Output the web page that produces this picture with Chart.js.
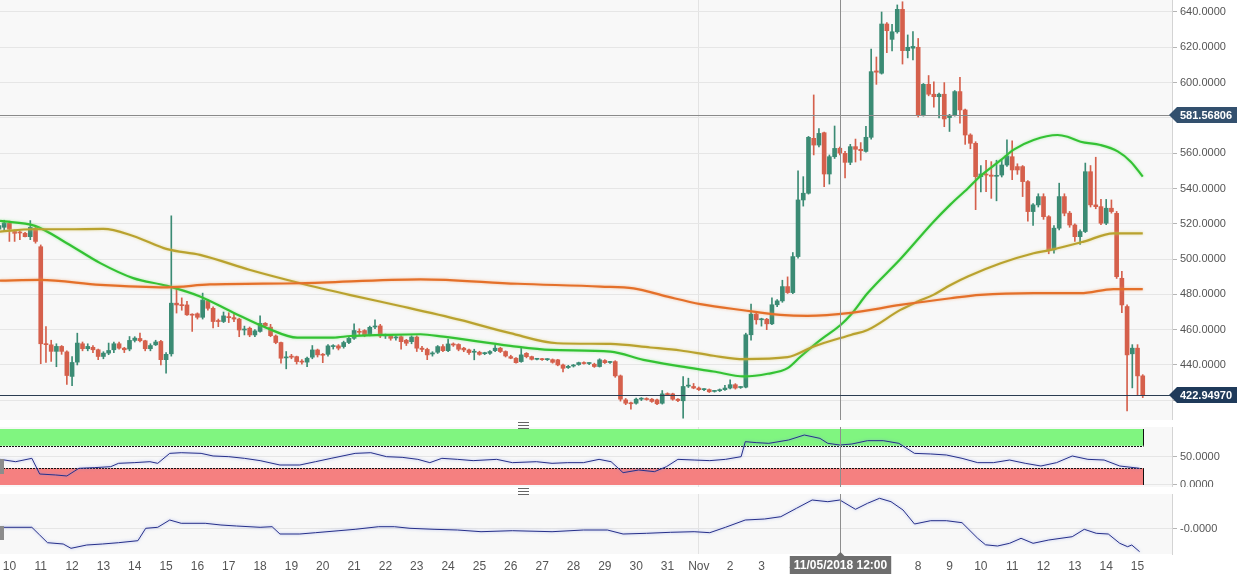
<!DOCTYPE html>
<html>
<head>
<meta charset="utf-8">
<title>Candles</title>
<script src="https://cdn.jsdelivr.net/npm/chart.js@4.4.1/dist/chart.umd.min.js"></script>
<style>
  html, body { margin: 0; padding: 0; background: #fff; }
  #wrap { position: relative; width: 1237px; height: 582px; overflow: hidden; background: #fff; }
  canvas { position: absolute; left: 0; }
  #c-main { top: 0; }
  #c-rsi { top: 427px; }
  #c-mom { top: 493px; }
  .grip { position: absolute; left: 518px; width: 11px; height: 5px; border-top: 1px solid #666; border-bottom: 1px solid #666; }
  .grip::after { content: ''; position: absolute; left: 0; right: 0; top: 2px; border-top: 1px solid #666; }
  .tab { position: absolute; left: 0; width: 4px; background: #8c8c8c; }
</style>
</head>
<body>
<div id="wrap">
  <canvas id="c-main" width="1237" height="420"></canvas>
  <canvas id="c-rsi" width="1237" height="60"></canvas>
  <canvas id="c-mom" width="1237" height="89"></canvas>
  <div class="grip" style="top:422px"></div>
  <div class="grip" style="top:488px"></div>
  <div class="tab" style="top:459px;height:15px"></div>
  <div class="tab" style="top:526px;height:14px"></div>
</div>
<script>
// ── Data: 4h candles, index 0 = Oct 10 00:00 ──────────
const FIRST_INDEX = -2;

const opens = [
  517, 518, 520.3, 515.6, 515.2, 514.6, 512.7, 517.5, 507, 452,
  451.4, 447.7, 450.5, 447.4, 433.5, 441.6, 452, 449.2, 450, 448.6,
  444.8, 446.7, 448.6, 452, 449.5, 449, 453.9, 455, 453.7, 449.2,
  451.4, 453.3, 443, 446.3, 475, 474, 474, 468.4, 469, 467,
  476.4, 472.1, 465, 464.6, 467.4, 466.8, 466, 459.8, 460.8, 457,
  459, 463.6, 461.4, 456.4, 452.7, 444, 445, 444.7, 441.9, 441.6,
  444.4, 448.5, 446, 446, 450.4, 450.8, 450.4, 452.7, 455.1, 459,
  459.5, 457, 461.5, 462.1, 456.4, 456.6, 455.3, 456, 454, 453.2,
  455.8, 449.5, 448.8, 446.2, 447.2, 450.4, 448.1, 451.9, 451.6, 449.5,
  448.5, 447.2, 447.2, 446.4, 446.6, 448.1, 449.5, 447.6, 444.7, 443.8,
  441.9, 446.6, 444.7, 443.2, 443.3, 443, 443, 442.9, 440, 438.5,
  439.4, 440.2, 441.1, 440.8, 440.4, 439.1, 442.5, 441.4, 441.9, 433.8,
  420.2, 418.3, 418.3, 420.6, 420.6, 420.6, 420.2, 418.3, 423.4, 423.6,
  420.6, 419.7, 428, 427.8, 426.9, 426, 426, 425, 425.4, 426,
  426.9, 428.8, 427.2, 427.4, 457.1, 468.8, 465.6, 465.9, 463.3, 474.1,
  476.3, 484.4, 481, 501.4, 533.5, 537.3, 568.4, 564.6, 571.6, 548.2,
  558, 562.8, 559.9, 554.8, 563.7, 562.2, 561, 569, 606.6, 605.3,
  633.2, 624.5, 628.8, 641.5, 618.1, 619.5, 620, 581.7, 599, 593.4,
  592, 593.4, 580.2, 581.7, 594.9, 584.5, 570.3, 565.6, 546.7, 547.8,
  547.6, 546.9, 547.6, 553.3, 558, 552.4, 552.4, 543.9, 526.9, 530.7,
  535.4, 524, 505.2, 517.5, 535.4, 526, 519.3, 512.7, 515.6, 549.5,
  530.7, 529.7, 520.3, 528.8, 525.9, 489.1, 473.1, 446.3, 449.5, 433.8
];
const highs = [
  520, 522, 521.5, 516.5, 516, 515.2, 521.8, 518.5, 508, 461.8,
  454, 452, 451, 448, 444.8, 458, 453, 452, 451, 449,
  447.5, 452.4, 453, 453, 450, 456.1, 456, 458, 454, 452,
  454, 454, 447, 524.5, 484.4, 478, 476, 469, 469.5, 480.7,
  477, 473, 466, 470, 469.6, 469, 466.5, 462, 461.5, 460,
  467.8, 464, 463, 457, 453, 447.6, 446, 445, 443, 444.5,
  451, 449, 446.5, 451.5, 451.5, 451.5, 453.5, 456, 463.3, 460.5,
  460, 462, 465.5, 463, 457.5, 457, 456.5, 456.5, 454.5, 456.5,
  456.5, 450.5, 449.5, 447.5, 451, 451.5, 454.6, 452.5, 452, 450,
  449, 448.9, 447.8, 447.2, 448.2, 451.3, 450, 448, 445.5, 444.2,
  449.5, 447, 445, 443.8, 443.8, 443.6, 443.4, 443.2, 440.5, 439.8,
  440.3, 441.6, 441.8, 441.4, 441, 443.5, 443, 442, 442.4, 434.3,
  421, 419, 421.2, 421.5, 421.4, 421, 420.6, 425.5, 424.2, 424,
  421, 433.4, 432.5, 429.5, 427.5, 426.6, 426.4, 425.6, 426.4, 428.5,
  431.6, 429.4, 427.8, 458, 474.5, 469.5, 466.5, 466.4, 478, 477,
  488, 489.9, 503.7, 550, 546.7, 569.5, 593, 574, 572, 559,
  575.4, 563.5, 561, 565, 568, 566, 575.2, 619, 614.5, 640,
  634, 633, 644, 645.8, 627, 628.9, 625, 599.5, 604, 600.5,
  594, 600, 582, 595.5, 603, 585, 571, 566.5, 553, 556,
  555.2, 556, 556, 567.5, 567, 554, 553, 544.5, 531.5, 537,
  537, 524.6, 519, 543, 537, 527, 520, 516.5, 554.4, 553,
  557.7, 533.8, 533.8, 533.5, 527, 493, 474, 451.5, 451.5, 434.5
];
const lows = [
  515, 516, 510, 510, 511, 512.5, 511, 509, 440.7, 441.4,
  442, 439, 446, 429, 428.2, 440, 448, 448, 447, 443,
  443.5, 445.8, 447, 449, 447, 448, 453, 453, 448, 448,
  451, 440, 435.4, 445, 469.4, 471, 468, 459, 466, 466,
  471, 461, 461.7, 464, 464, 464.5, 456, 457, 456, 456,
  458.5, 461, 456, 452, 441, 437.8, 443.5, 440.5, 440.5, 439,
  443.5, 444.5, 441.3, 445, 449, 448.5, 449.5, 452, 454.5, 457,
  456, 456.5, 460.5, 455.5, 455, 454, 454, 449, 451, 452,
  447.6, 447.5, 443, 445, 446.5, 447.5, 447.5, 450.5, 448, 447.5,
  446, 442.9, 445.5, 445.8, 446, 447.5, 447, 444.5, 443.5, 441,
  441.5, 444, 442.8, 442.8, 442.6, 442.5, 441, 439.5, 436, 438,
  438.8, 439.8, 440.4, 440.2, 438.6, 438.8, 440.8, 440.9, 433, 419.5,
  417.5, 415, 417.8, 419.8, 420, 418.8, 417.5, 417.8, 422.6, 420,
  419.2, 409.8, 427.2, 426.5, 425.5, 425.4, 424.4, 424.6, 424.9, 425.6,
  426.4, 426.3, 426.7, 427, 454, 463.1, 462, 460, 462.8, 473,
  475.5, 480.5, 480.4, 500.5, 530, 536.8, 559, 563.5, 541, 542.5,
  557, 559, 546, 553.5, 555, 556, 560.5, 568, 599, 604.8,
  617, 618, 628, 610.5, 614, 612.8, 580.5, 581, 592.5, 586,
  580, 575, 572.3, 581, 577, 565, 562.5, 528, 538, 538.2,
  534.4, 533, 546.5, 552.5, 545, 548, 535.4, 521.5, 519, 529.5,
  522.5, 503, 503.3, 516.5, 524.5, 518, 510, 508.3, 515, 529.5,
  528.5, 519.5, 519.5, 526, 489, 469.6, 414, 427, 423, 421.5
];
const closes = [
  519, 520.5, 516.9, 514.6, 514.8, 512.7, 518, 510, 452, 451.5,
  447.7, 450.5, 447.7, 434, 441.4, 452.4, 449.2, 450.5, 448.6, 444.8,
  446.7, 448.2, 452, 449.5, 448.6, 453.9, 455.2, 453.7, 449.2, 451,
  453, 443, 446, 475, 474, 473.6, 468.4, 468.2, 467, 476.8,
  472.1, 464.6, 464.6, 467.8, 466.8, 466, 459.8, 460.2, 457, 459.3,
  463.6, 462.1, 456.6, 452.7, 443.8, 444.4, 444.4, 441.9, 441.6, 443.8,
  448.5, 445.7, 445.5, 450.8, 450.6, 449.5, 452.7, 455.1, 459.5, 458.5,
  457, 461.3, 462, 456.4, 456.7, 455.1, 455.5, 453.2, 452.3, 455.8,
  449.5, 448.8, 445.7, 446.8, 450.4, 448.1, 451.9, 451.3, 448.9, 448.5,
  447, 447.6, 446, 446.8, 447.6, 449.5, 447.6, 445.1, 443.8, 441.3,
  445.7, 444.7, 443.2, 443.5, 443, 443.1, 441.5, 440, 438.1, 439.2,
  439.9, 441.3, 440.8, 441, 439.1, 442.9, 441.3, 441.7, 433.8, 420.6,
  418.3, 418, 420.6, 420.8, 420.4, 419.3, 418, 423.6, 423.2, 420.6,
  419.8, 427.8, 428.4, 426.9, 426, 426.2, 424.8, 425.2, 426, 426.9,
  428.8, 426.9, 427.4, 457.1, 468.8, 465.6, 465.9, 463.3, 474.1, 476.3,
  484.4, 481, 501.4, 533.5, 537.3, 569, 564.6, 571.2, 548.2, 558,
  562.7, 560, 554.8, 563.7, 562.2, 561.4, 569, 606.2, 605.9, 633.2,
  629.4, 628.8, 641.5, 618.1, 620, 620.5, 581.7, 599, 593.4, 592,
  593.4, 579.4, 581.5, 594.9, 584.5, 570.3, 565.6, 546.7, 548.2, 547.6,
  546.9, 547.4, 553.3, 558.5, 550.5, 550.5, 543.9, 526.9, 530.7, 535.4,
  524, 505.2, 517.5, 535.4, 526, 519.3, 512.7, 515.6, 549.5, 530.7,
  529.7, 520.3, 528.8, 526.9, 490, 474, 445.7, 449.5, 433.8, 422.95
];

// moving averages, read at sample points (x = candle index)
const fastMaIdx = [-1.8, 4.9, 11, 17.4, 23.7, 30.2, 36.5, 42.9, 49.4, 55.1, 62, 65.3, 71.6, 78.7, 83.1, 95.9, 103.6, 115.1, 121.4, 128.5, 134.8, 140.6, 145.2, 149, 151.5, 155.3, 159.2, 161.1, 164.3, 170.6, 176.9, 180.2, 183.5, 185.9, 189.8, 192.3, 196.1, 200.7, 202.6, 205.1, 208.9, 212.2, 214.7, 217];
const fastMaVal = [521.6, 518.8, 509, 497.7, 489.2, 484.8, 478.8, 469.6, 460.8, 455.5, 455.5, 456.4, 457, 457.4, 456, 450.8, 448.5, 447.6, 442.9, 439.2, 436.3, 433.5, 435, 438.2, 444.8, 454.2, 462.8, 468.4, 480.6, 500, 521, 531, 540, 547, 556, 562, 567.5, 570.3, 569.3, 566.5, 564.6, 561, 555.2, 546.7];
const midMaIdx = [-1.8, 4.5, 11.1, 18, 23.7, 30.2, 36.5, 46.1, 55.7, 65.3, 74.8, 86.3, 95.9, 104.9, 115.1, 122.7, 128.5, 134.8, 140.6, 149, 154, 161.1, 164.3, 170.6, 173.9, 176.9, 180.2, 183.5, 189.8, 196.1, 199.4, 205.7, 211.4, 217];
const midMaVal = [515.6, 516.9, 516.9, 517.1, 513.1, 505.6, 502.4, 493.8, 486.3, 479.6, 473.4, 465.5, 458, 452.3, 451.9, 449.9, 448.2, 445.2, 443.3, 444.4, 450.5, 457, 459.8, 471.2, 475.9, 479.7, 485.3, 490.1, 497.6, 503.3, 505.2, 509.9, 514.6, 514.6];
const slowMaIdx = [-1.8, 5.9, 17.4, 30.2, 38.4, 55.7, 78.7, 97.3, 113.2, 119.5, 126, 132.3, 140.5, 147.6, 152.8, 161.1, 170.6, 180.2, 185.9, 196.1, 205.1, 211.4, 217];
const slowMaVal = [487.8, 488.2, 485.4, 484, 485.6, 486.3, 488.5, 486, 484.4, 483.4, 478.7, 474.5, 471, 468.4, 467.8, 469.5, 474, 477.8, 479.7, 480.7, 480.7, 483, 483];

// RSI pane
const rsiIdx = [-1.8, 1.2, 4.3, 5.8, 8.8, 11, 13.3, 16.3, 19.4, 20.9, 23.9, 26.9, 28.4, 30.7, 32.9, 36.7, 39, 42, 45, 48, 51.8, 55.6, 58.6, 61.6, 66.2, 69.2, 72.2, 75.2, 78.2, 80.5, 82.8, 85.8, 88.8, 93.3, 96.3, 100.9, 103.9, 106.9, 109.9, 112.9, 115.2, 117.5, 120.5, 123.5, 125.8, 128, 131.1, 134.1, 137.1, 140.1, 140.9, 143.1, 145.4, 149.2, 152.2, 155.2, 156.7, 159, 161.3, 164.3, 167.3, 170.3, 173.3, 176.4, 179.4, 182.4, 185.4, 188.4, 191.5, 194.5, 197.5, 200.5, 203.5, 206.5, 209.6, 212.6, 216.4];
const rsiVals = [45.8, 41.6, 47.6, 19.6, 17.9, 16.1, 29.8, 31, 32.7, 38.7, 39.9, 41.6, 38.7, 56.5, 57.7, 56.5, 51.8, 50.6, 47.6, 43.5, 35.7, 35.7, 41.6, 47.6, 56.5, 57.7, 50.6, 49.4, 45.8, 39.9, 47.6, 45.8, 43.5, 45.8, 39.9, 41.6, 38.7, 39.9, 39.9, 45.8, 41.6, 22, 26.8, 23.8, 32.7, 45.8, 44.6, 43.5, 45.8, 50.6, 77.4, 75.6, 74.4, 80.4, 89.3, 83.3, 74.4, 71.4, 73.2, 79.2, 79.2, 74.4, 56.5, 55.4, 53.6, 47.6, 39.9, 39.9, 44.6, 38.7, 33.9, 39.9, 51.8, 45.8, 44.6, 33.9, 29.8];
const rsiOverbought = [70, 100];
const rsiOversold = [0, 30];
const rsiTicks = [0, 50];

// lower oscillator pane
const momIdx = [-1.8, 4.3, 5.8, 7.3, 10.3, 11.8, 14.8, 17.8, 20.9, 24.6, 26.1, 28.4, 30.7, 32.9, 37.5, 40.5, 43.5, 48, 50.3, 51.8, 55.6, 58.6, 63.1, 66.2, 70.7, 73.7, 76.7, 81.3, 85.8, 90.3, 96.3, 103.9, 109.9, 114.5, 117.5, 122, 126.6, 131.1, 134.1, 137.1, 140.9, 144.6, 147.7, 150.7, 153.7, 156.7, 159, 162, 164.3, 166.6, 168.8, 171.1, 173.3, 176.4, 179.4, 182.4, 185.4, 186.9, 189.2, 191.5, 193.7, 196, 199, 203.5, 205.8, 208.1, 210.4, 212.6, 214.1, 214.9, 216.4];
const momVals = [1.7, 1.7, -6, -13.7, -15, -19.3, -16, -15, -13.7, -11.7, 0.7, 1.7, 9, 5.7, 5.7, 4, 3, 1.7, 2.3, -5, -5, -3.7, -1.7, -0.3, 2.3, 2.3, 0.7, -0.3, -1, -2.7, -1.7, -2.7, -1, -1, -5, -4.3, -3.3, -2.7, -3.7, 1.7, 9, 10, 12.3, 20.7, 29, 27.3, 29, 19.7, 25.7, 30.7, 27.3, 19, 5, 8.3, 8.3, 6.3, -9.3, -15.8, -17, -14.3, -9.3, -14.3, -11, -7.7, -0.3, -4.3, -5, -14.3, -17.7, -16, -22.7];
const momTicks = [0];
const momTickLabels = ['-0.0000'];

// axes / markers
const dayLabels = ['10','11','12','13','14','15','16','17','18','19','20','21','22','23','24','25','26','27','28','29','30','31','Nov','2','3','4','5','6','7','8','9','10','11','12','13','14','15'];
const priceTicks = [420, 440, 460, 480, 500, 520, 540, 560, 580, 600, 620, 640];
const crossIndex = 159;
const crossPrice = 581.56806;
const crossDate = '11/05/2018 12:00';
const lastPrice = 422.9497;

// ── Look ──────────────────────────────────────────────
const X_MIN = -1.8, X_MAX = 222.6, NOV_INDEX = 132;
const AXIS_W = 65;
const UP = '#3b8b74', DOWN = '#d5604c';
const FONT = '"Liberation Sans", Arial, sans-serif';
const NARROW = '"Liberation Sans Narrow", "Liberation Sans", Arial, sans-serif';

Chart.defaults.font.family = FONT;
Chart.defaults.font.size = 11;
Chart.defaults.color = '#555';

// ── Plugins ───────────────────────────────────────────
const plotBg = {
  id: 'plotBg',
  beforeDraw(chart) {
    const { ctx, chartArea: a } = chart;
    ctx.save();
    ctx.fillStyle = '#f8f8f8';
    ctx.fillRect(a.left, a.top, a.width, a.height);
    ctx.restore();
  }
};

const glow = {
  id: 'glow',
  beforeDatasetDraw(chart, args) {
    const ds = chart.data.datasets[args.index];
    if (!ds.glow) return;
    chart.ctx.save();
    chart.ctx.shadowColor = ds.glow;
    chart.ctx.shadowBlur = 3;
  },
  afterDatasetDraw(chart, args) {
    if (chart.data.datasets[args.index].glow) chart.ctx.restore();
  }
};

const crosshair = {
  id: 'crosshair',
  afterDatasetsDraw(chart) {
    const { ctx, chartArea: a, scales: { x } } = chart;
    const px = Math.round(x.getPixelForValue(crossIndex)) + 0.5;
    ctx.save();
    ctx.strokeStyle = '#8e8e8e';
    ctx.lineWidth = 1;
    ctx.beginPath();
    ctx.moveTo(px, a.top);
    ctx.lineTo(px, a.bottom);
    ctx.stroke();
    ctx.restore();
  }
};

function tag(ctx, left, right, y, text, fill) {
  const h = 16;
  ctx.fillStyle = fill;
  ctx.beginPath();
  ctx.moveTo(left - 3, y);
  ctx.lineTo(left + 5, y - h / 2);
  ctx.lineTo(right, y - h / 2);
  ctx.lineTo(right, y + h / 2);
  ctx.lineTo(left + 5, y + h / 2);
  ctx.closePath();
  ctx.fill();
  ctx.fillStyle = '#fff';
  ctx.font = 'bold 11px ' + FONT;
  ctx.textBaseline = 'middle';
  ctx.textAlign = 'left';
  ctx.fillText(text, left + 8, y + 0.5);
}

const priceMarks = {
  id: 'priceMarks',
  afterDatasetsDraw(chart) {
    const { ctx, chartArea: a, scales: { y } } = chart;
    ctx.save();
    ctx.lineWidth = 1;
    [[crossPrice, '#8a8a8a'], [lastPrice, '#2b3d52']].forEach(([v, c]) => {
      const py = Math.round(y.getPixelForValue(v)) + 0.5;
      ctx.strokeStyle = c;
      ctx.beginPath();
      ctx.moveTo(a.left, py);
      ctx.lineTo(a.right, py);
      ctx.stroke();
    });
    ctx.restore();
  },
  afterDraw(chart) {
    const { ctx, chartArea: a, scales: { y } } = chart;
    ctx.save();
    tag(ctx, a.right, chart.width, y.getPixelForValue(crossPrice), crossPrice.toFixed(5), '#33506e');
    tag(ctx, a.right, chart.width, y.getPixelForValue(lastPrice), lastPrice.toFixed(5), '#1f3a5a');
    ctx.restore();
  }
};

const rsiZones = {
  id: 'rsiZones',
  beforeDatasetsDraw(chart) {
    const { ctx, chartArea: a, scales: { x, y } } = chart;
    const x0 = a.left;
    const x1 = Math.round(x.getPixelForValue(FIRST_INDEX + closes.length - 1)) + 0.5;
    ctx.save();
    [[rsiOverbought, '#80f580'], [rsiOversold, '#f58080']].forEach(([band, fill]) => {
      const yTop = y.getPixelForValue(band[1]);
      const yBot = y.getPixelForValue(band[0]);
      ctx.fillStyle = fill;
      ctx.fillRect(x0, yTop, x1 - x0, yBot - yTop);
    });
    ctx.strokeStyle = '#111';
    ctx.lineWidth = 1;
    ctx.setLineDash([2, 1]);
    [rsiOverbought[0], rsiOversold[1]].forEach(v => {
      const py = Math.round(y.getPixelForValue(v)) + 0.5;
      ctx.beginPath(); ctx.moveTo(x0, py); ctx.lineTo(x1, py); ctx.stroke();
    });
    ctx.setLineDash([]);
    [rsiOverbought, rsiOversold].forEach(band => {
      ctx.beginPath();
      ctx.moveTo(x1, y.getPixelForValue(band[1]));
      ctx.lineTo(x1, y.getPixelForValue(band[0]));
      ctx.stroke();
    });
    ctx.restore();
  }
};

const dateTag = {
  id: 'dateTag',
  afterDraw(chart) {
    const { ctx, chartArea: a, scales: { x } } = chart;
    const cx = Math.round(x.getPixelForValue(crossIndex)) + 0.5;
    ctx.save();
    ctx.font = 'bold 12px ' + NARROW;
    const w = ctx.measureText(crossDate).width + 8;
    const top = a.bottom + 2, h = 18;
    ctx.fillStyle = '#6e6e6e';
    ctx.fillRect(cx - w / 2, top, w, h);
    ctx.beginPath();
    ctx.moveTo(cx - 4, top); ctx.lineTo(cx, top - 4); ctx.lineTo(cx + 4, top);
    ctx.fill();
    ctx.fillStyle = '#fff';
    ctx.textAlign = 'center';
    ctx.textBaseline = 'middle';
    ctx.fillText(crossDate, cx, top + h / 2 + 0.5);
    ctx.restore();
  }
};

// ── Scales ────────────────────────────────────────────
function xScale(showLabels) {
  return {
    type: 'linear',
    offset: false,
    min: X_MIN,
    max: X_MAX,
    afterBuildTicks: s => { s.ticks = dayLabels.map((_, k) => ({ value: k * 6 })); },
    grid: {
      offset: false,
      drawTicks: false,
      color: c => (c.tick && c.tick.value === NOV_INDEX ? '#e3e3e3' : 'rgba(0,0,0,0)'),
    },
    border: { display: false },
    ticks: {
      display: showLabels,
      autoSkip: false,
      maxRotation: 0,
      padding: 5,
      color: '#555',
      font: { family: NARROW, size: 12 },
      callback: (v, i) => dayLabels[i],
    },
    afterFit: s => {
      s.height = showLabels ? 28 : 0;
      s.paddingLeft = 0;
      s.paddingRight = 0;
    },
  };
}

function yScale(min, max, tickValues, label) {
  return {
    position: 'right',
    min,
    max,
    afterBuildTicks: s => { s.ticks = tickValues.map(v => ({ value: v })); },
    grid: { color: '#e6e6e6', tickLength: 5, tickColor: '#b5b5b5' },
    border: { color: '#d4d4d4' },
    ticks: { padding: 3, color: '#555', font: { size: 11 }, callback: label },
    afterFit: s => {
      s.width = AXIS_W;
      s.paddingTop = 0;
      s.paddingBottom = 0;
    },
  };
}

const baseOptions = {
  responsive: false,
  animation: false,
  events: [],
  layout: { padding: 0 },
  plugins: { legend: { display: false }, tooltip: { enabled: false } },
};

function pts(xs, ys) {
  return xs.map((x, k) => ({ x, y: ys[k] }));
}

function maLine(xs, ys, color, halo) {
  return {
    type: 'line',
    data: pts(xs, ys),
    borderColor: color,
    borderWidth: 2.2,
    pointRadius: 0,
    cubicInterpolationMode: 'monotone',
    glow: halo,
    order: 1,
  };
}

// ── Main pane: candles + moving averages ──────────────
const candleX = closes.map((_, k) => FIRST_INDEX + k);
const candleColor = closes.map((c, k) => (c >= opens[k] ? UP : DOWN));

new Chart(document.getElementById('c-main'), {
  type: 'bar',
  data: {
    datasets: [
      {
        data: candleX.map((x, k) => ({ x, y: [lows[k], highs[k]] })),
        backgroundColor: candleColor,
        barThickness: 1,
        grouped: false,
        order: 3,
      },
      {
        data: candleX.map((x, k) => ({ x, y: [opens[k], closes[k]] })),
        backgroundColor: candleColor,
        barThickness: 4,
        minBarLength: 1,
        grouped: false,
        order: 2,
      },
      maLine(slowMaIdx, slowMaVal, '#e4702a', 'rgba(240,150,90,0.6)'),
      maLine(midMaIdx, midMaVal, '#b9a22f', 'rgba(215,200,100,0.6)'),
      maLine(fastMaIdx, fastMaVal, '#34c234', 'rgba(120,230,120,0.6)'),
    ],
  },
  options: {
    ...baseOptions,
    scales: {
      x: xScale(false),
      y: yScale(408.8, 646.8, priceTicks, v => v.toFixed(4)),
    },
  },
  plugins: [plotBg, glow, crosshair, priceMarks],
});

// ── RSI pane ──────────────────────────────────────────
new Chart(document.getElementById('c-rsi'), {
  type: 'line',
  data: {
    datasets: [{
      data: pts(rsiIdx, rsiVals),
      borderColor: '#27308a',
      borderWidth: 1,
      pointRadius: 0,
      glow: 'rgba(120,140,230,0.7)',
    }],
  },
  options: {
    ...baseOptions,
    scales: {
      x: xScale(false),
      y: yScale(-3.6, 103.6, rsiTicks, v => v.toFixed(4)),
    },
  },
  plugins: [plotBg, rsiZones, glow, crosshair],
});

// ── Lower oscillator pane + date axis ─────────────────
new Chart(document.getElementById('c-mom'), {
  type: 'line',
  data: {
    datasets: [{
      data: pts(momIdx, momVals),
      borderColor: '#27308a',
      borderWidth: 1,
      pointRadius: 0,
      glow: 'rgba(120,140,230,0.7)',
    }],
  },
  options: {
    ...baseOptions,
    layout: { padding: { top: 1 } },
    scales: {
      x: xScale(true),
      y: yScale(-25, 35, momTicks, (v, i) => momTickLabels[i]),
    },
  },
  plugins: [plotBg, glow, crosshair, dateTag],
});
</script>
</body>
</html>
